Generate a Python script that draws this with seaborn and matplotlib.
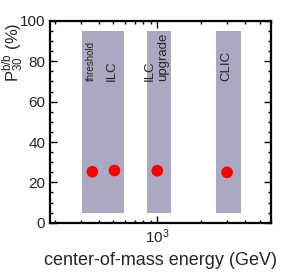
import numpy as np
import matplotlib
matplotlib.use("Agg")
import matplotlib.pyplot as plt
import matplotlib.ticker as mticker
import seaborn as sns
import pandas as pd

energy = [360, 510, 1000, 3000]
p30 = [25.3, 25.9, 25.8, 25.0]

# collider bands
band_lo = [305, 849, 2507]
band_hi = [591, 1236, 3714]
band_y = [5, 95]

# band labels
lab_text = ["threshold", "ILC", "ILC\nupgrade", "CLIC"]
lab_x = [349, 487, 985, 2985]
lab_size = [7, 9.5, 9.5, 9.5]

df = pd.DataFrame({"energy": energy, "p30": p30})

sns.set_style("ticks")
plt.rcParams["font.family"] = ["Liberation Sans", "DejaVu Sans"]
plt.rcParams["mathtext.fontset"] = "custom"
plt.rcParams["mathtext.rm"] = "Liberation Sans"
plt.rcParams["mathtext.it"] = "Liberation Sans"

fig = plt.figure(figsize=(2.96, 2.72), dpi=100)
ax = fig.add_axes([0.169, 0.181, 0.747, 0.742])

for lo, hi in zip(band_lo, band_hi):
    ax.fill_betweenx(band_y, lo, hi, color="#aba8c2", lw=0, zorder=1)

for t, x, s in zip(lab_text, lab_x, lab_size):
    ax.text(x, 70, t, rotation=90, ha="center", va="bottom", fontsize=s,
            multialignment="left", zorder=2)

sns.scatterplot(data=df, x="energy", y="p30", color="#ff0000", s=70,
                edgecolor="none", ax=ax, zorder=3)

ax.set_xscale("log")
ax.set_xlim(185, 6000)
ax.set_ylim(0, 100)
ax.xaxis.set_major_locator(mticker.FixedLocator([1000]))
ax.xaxis.set_minor_locator(mticker.LogLocator(base=10, subs=np.arange(2, 10)))
ax.xaxis.set_minor_formatter(mticker.NullFormatter())
ax.yaxis.set_major_locator(mticker.MultipleLocator(20))
ax.yaxis.set_minor_locator(mticker.MultipleLocator(5))

ax.tick_params(which="both", direction="in", top=True, right=True, width=1,
               labelsize=11, color="black")
ax.tick_params(which="major", length=5)
ax.tick_params(which="minor", length=2.5)
for sp in ax.spines.values():
    sp.set_linewidth(1.6)
    sp.set_color("black")

ax.set_xlabel("center-of-mass energy (GeV)", fontsize=13)
ax.set_ylabel(r"$\mathregular{P_{30}^{b/\bar{b}}}$ (%)", fontsize=12, loc="top")
ax.yaxis.set_label_coords(-0.115, 0.99)

fig.savefig("out.png", dpi=100)
